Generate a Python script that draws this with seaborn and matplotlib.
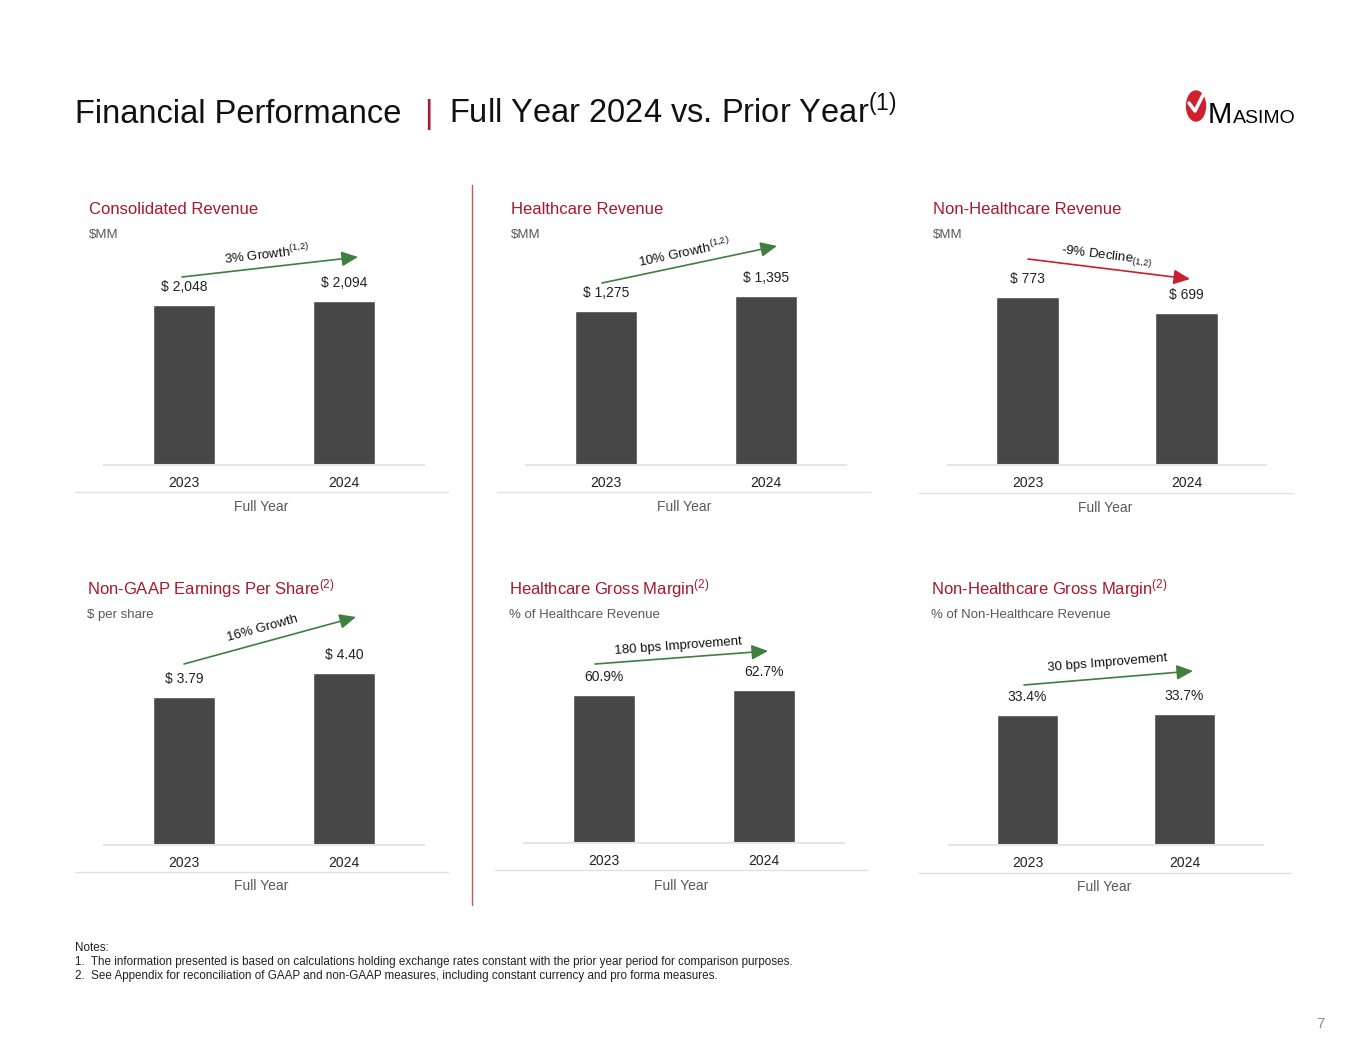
import math
import matplotlib
matplotlib.use("Agg")
import matplotlib.pyplot as plt
import seaborn as sns
import pandas as pd
from matplotlib.patches import Ellipse

# ---- data ----
years = ["2023", "2024"]
consolidated_revenue = [2048, 2094]
healthcare_revenue = [1275, 1395]
non_healthcare_revenue = [773, 699]
non_gaap_eps = [3.79, 4.40]
healthcare_margin = [60.9, 62.7]
non_healthcare_margin = [33.4, 33.7]

panel_titles = ["Consolidated Revenue", "Healthcare Revenue", "Non-Healthcare Revenue",
                "Non-GAAP Earnings Per Share$^{(2)}$", "Healthcare Gross Margin$^{(2)}$",
                "Non-Healthcare Gross Margin$^{(2)}$"]
panel_units = ["\\$MM", "\\$MM", "\\$MM", "\\$ per share",
               "% of Healthcare Revenue", "% of Non-Healthcare Revenue"]
change_labels = ["3% Growth$^{(1{,}2)}$", "10% Growth$^{(1{,}2)}$",
                 "-9% Decline$_{\\mathit{(1{,}2)}}$",
                 "16% Growth", "180 bps Improvement", "30 bps Improvement"]
notes = ["Notes:",
         "1.  The information presented is based on calculations holding exchange rates constant "
         "with the prior year period for comparison purposes.",
         "2.  See Appendix for reconciliation of GAAP and non-GAAP measures, including constant "
         "currency and pro forma measures."]

# ---- style ----
sns.set_theme(style="white")
plt.rcParams["font.family"] = ["Liberation Sans", "DejaVu Sans"]
plt.rcParams["mathtext.fontset"] = "custom"
plt.rcParams["mathtext.rm"] = "Liberation Sans"
plt.rcParams["mathtext.it"] = "Liberation Sans:italic"

W, H = 1365, 1055
AXH = 250
BAR = "#474747"
RED = "#A6192E"
GREEN = "#3F8040"
GREY = "#595959"

fmt_money = lambda v: f"$ {v:,.0f}"
fmt_eps = lambda v: f"$ {v:.2f}"
fmt_pct = lambda v: f"{v:.1f}%"

# layout of each panel (pixel positions)
panels = [
    dict(values=consolidated_revenue, fmt=fmt_money, left=104, right=424, base=465, ytop=3195,
         tx=89, ty=214, line=(75, 448, 492), fy=507,
         arrow=((182, 277), (358, 257)), arrow_color=GREEN, txt=(267, 254)),
    dict(values=healthcare_revenue, fmt=fmt_money, left=526, right=846, base=465, ytop=2066,
         tx=511, ty=214, line=(497, 871, 492), fy=507,
         arrow=((602, 283), (777, 246)), arrow_color=GREEN, txt=(684, 252)),
    dict(values=non_healthcare_revenue, fmt=fmt_money, left=948, right=1266, base=465, ytop=1150,
         tx=933, ty=214, line=(918, 1293, 493), fy=508,
         arrow=((1028, 259), (1190, 279)), arrow_color="#C8202F", txt=(1107, 256)),
    dict(values=non_gaap_eps, fmt=fmt_eps, left=104, right=424, base=845, ytop=6.40,
         tx=87, ty=594, line=(75, 448, 872), fy=886,
         arrow=((184, 664), (356, 617)), arrow_color=GREEN, txt=(262, 628)),
    dict(values=healthcare_margin, fmt=fmt_pct, left=524, right=844, base=843, ytop=102.7,
         tx=509, ty=594, line=(495, 868, 870), fy=886,
         arrow=((595, 664), (768, 651)), arrow_color=GREEN, txt=(678, 646)),
    dict(values=non_healthcare_margin, fmt=fmt_pct, left=949, right=1263, base=845, ytop=64.1,
         tx=931, ty=594, line=(918, 1290, 873), fy=887,
         arrow=((1024, 685), (1193, 671)), arrow_color=GREEN, txt=(1107, 663)),
]

fig = plt.figure(figsize=(W / 100, H / 100), dpi=100)
fig.patch.set_facecolor("white")

# overlay axes in pixel coordinates for all slide decorations
ov = fig.add_axes([0, 0, 1, 1], zorder=-1)
ov.set_xlim(0, W)
ov.set_ylim(H, 0)
ov.axis("off")

# ---- title ----
ov.text(75, 123, "Financial Performance", fontsize=23.5, color="#111111", va="baseline")
ov.text(428, 123, "|", fontsize=23.5, color=RED, va="baseline", ha="center")
ov.text(449, 123, "Full Year 2024 vs. Prior Year$^{(1)}$", fontsize=23.5, color="#111111",
        va="baseline")

# ---- logo ----
ov.add_patch(Ellipse((1196, 106), 19, 30, color="#D0202E"))
ov.plot([1189, 1195, 1204], [103, 111, 93], color="white", lw=2.5, solid_capstyle="round")
ov.text(1208, 123, "M", fontsize=21, color="black", va="baseline")
ov.text(1233, 123, "ASIMO", fontsize=14, color="black", va="baseline")

# ---- divider ----
ov.plot([472, 472], [185, 905], color="#C9545F", lw=1)

# ---- panels ----
for i, p in enumerate(panels):
    ax = fig.add_axes([p["left"] / W, 1 - p["base"] / H,
                       (p["right"] - p["left"]) / W, AXH / H])
    df = pd.DataFrame({"year": years, "value": p["values"]})
    sns.barplot(data=df, x="year", y="value", color=BAR, saturation=1, width=0.39, ax=ax)
    ax.set_xlim(-0.5, 1.5)
    ax.set_ylim(0, p["ytop"])
    ax.set_facecolor("none")
    for s in ["top", "left", "right"]:
        ax.spines[s].set_visible(False)
    ax.spines["bottom"].set_color("#E6E6E6")
    ax.spines["bottom"].set_linewidth(1.5)
    ax.set_yticks([])
    ax.set_xlabel("")
    ax.set_ylabel("")
    ax.tick_params(axis="x", length=0, pad=8, labelsize=10, labelcolor="#222222")

    for bar, v in zip(ax.patches, p["values"]):
        ax.annotate(p["fmt"](v), (bar.get_x() + bar.get_width() / 2, bar.get_height()),
                    xytext=(0, 13), textcoords="offset points",
                    ha="center", va="center", fontsize=10, color="#222222")

    # titles
    ov.text(p["tx"], p["ty"], panel_titles[i], fontsize=12, color=RED, va="baseline")
    ov.text(p["tx"], p["ty"] + 24, panel_units[i], fontsize=9.5, color=GREY, va="baseline")

    # category line and label
    x0, x1, ly = p["line"]
    ov.plot([x0, x1], [ly, ly], color="#E3E3E3", lw=1)
    ov.text((x0 + x1) / 2, p["fy"], "Full Year", fontsize=10, color=GREY,
            ha="center", va="center")

    # change arrow
    (ax0, ay0), (ax1, ay1) = p["arrow"]
    ov.annotate("", xy=(ax1, ay1), xytext=(ax0, ay0),
                arrowprops=dict(arrowstyle="-|>,head_length=0.55,head_width=0.25",
                                color=p["arrow_color"], lw=1.2, mutation_scale=18,
                                shrinkA=0, shrinkB=0))
    ang = math.degrees(math.atan2(ay0 - ay1, ax1 - ax0))
    ov.text(p["txt"][0], p["txt"][1], change_labels[i], fontsize=9.5, color="#111111",
            rotation=ang, rotation_mode="anchor", ha="center", va="center")

# ---- notes ----
for k, line in enumerate(notes):
    ov.text(75, 948 + 14 * k, line, fontsize=8.4, color="#222222", va="center")

ov.text(1320, 1024, "7", fontsize=11, color="#8C8C8C", ha="center", va="center")

fig.savefig("out.png", dpi=100, facecolor="white")
